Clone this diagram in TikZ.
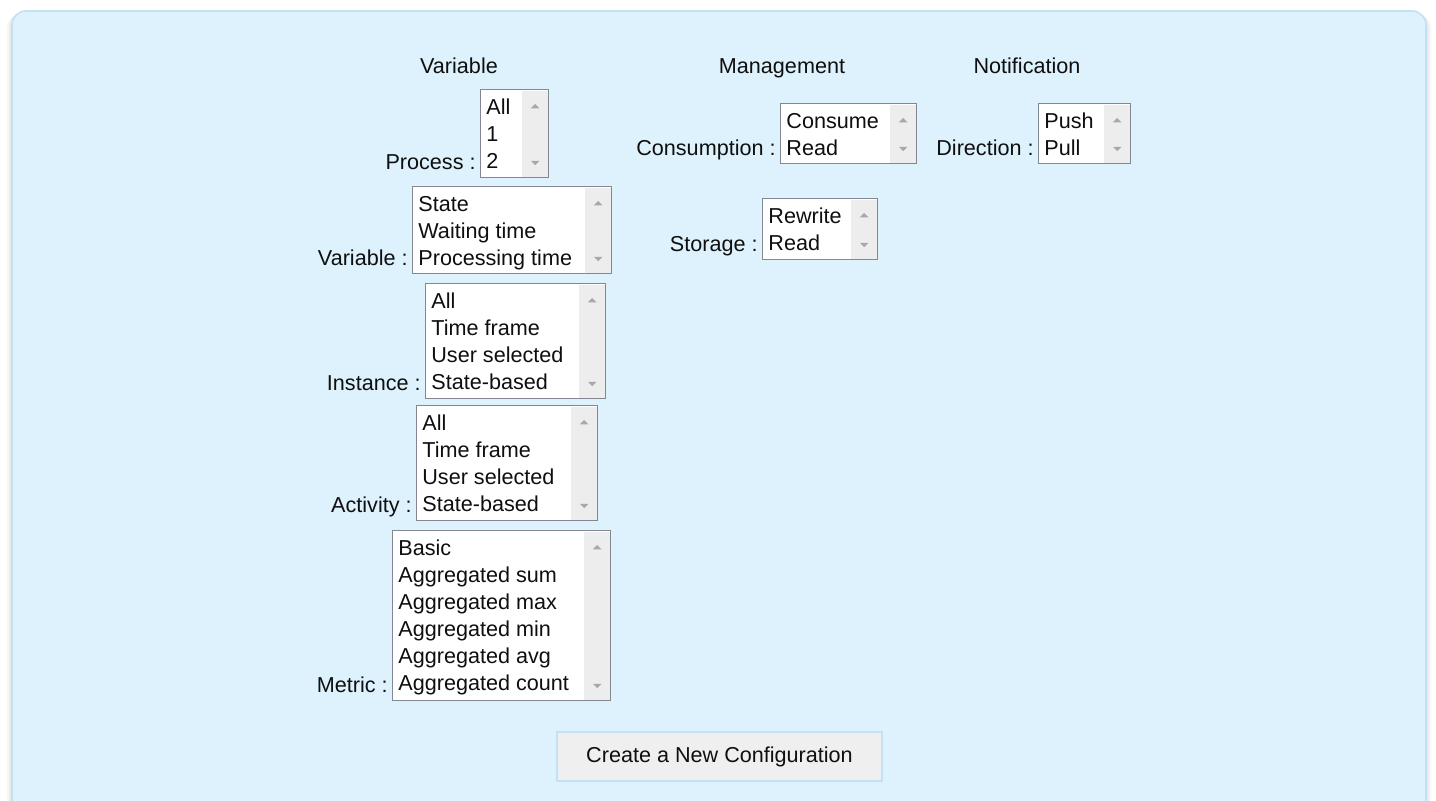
\documentclass[tikz,border=0pt]{standalone}
\usepackage{fontspec}
\setmainfont{Liberation Sans}

\definecolor{panelblue}{RGB}{222,242,253}
\definecolor{panelline}{RGB}{196,225,242}
\definecolor{boxgray}{RGB}{130,135,144}
\definecolor{barfill}{RGB}{237,237,237}
\definecolor{arrowgray}{RGB}{168,168,168}
\definecolor{btnfill}{RGB}{239,239,239}
\definecolor{btnline}{RGB}{192,226,244}
\definecolor{txt}{RGB}{15,15,15}

\begin{document}
\begin{tikzpicture}
    [x=0.5pt, y=-0.5pt,
     every node/.style={font=\fontsize{10.8}{13.5}\selectfont, text=txt},
     heading/.style={anchor=base, inner sep=0pt},
     field/.style={anchor=base east, inner sep=0pt},
     listbox/.style={draw=boxgray, fill=white, anchor=north west, inner sep=0pt, line width=0.6pt},
     entries/.style={anchor=north west, inner sep=0pt, align=left},
     button/.style={draw=btnline, fill=btnfill, line width=0.7pt,
                    minimum width=162.5pt, minimum height=24.5pt}]

    \useasboundingbox (0,0) rectangle (1436,801);

    % panel with a faint shadow
    \fill[black, opacity=0.04, rounded corners=8pt] (7,13) rectangle (1431,850);
    \fill[black, opacity=0.05, rounded corners=7.5pt] (9.5,12) rectangle (1428.5,850);
    \draw[panelline, fill=panelblue, rounded corners=7pt, line width=0.8pt] (12,11) rectangle (1426,850);

    % column headings
    \node[heading] (head var)   at (459,74)  {Variable};
    \node[heading] (head mgmt)  at (782,74)  {Management};
    \node[heading] (head notif) at (1027,74) {Notification};

    % list boxes
    \node[listbox, minimum width=34pt,   minimum height=44pt]   (process)     at (480,89)  {};
    \node[listbox, minimum width=99.5pt, minimum height=43.5pt] (variable)    at (412,186) {};
    \node[listbox, minimum width=90pt,   minimum height=57.5pt] (instance)    at (425,283) {};
    \node[listbox, minimum width=90.5pt, minimum height=57.5pt] (activity)    at (416,405) {};
    \node[listbox, minimum width=109pt,  minimum height=85pt]   (metric)      at (392,530) {};
    \node[listbox, minimum width=68pt,   minimum height=30pt]   (consumption) at (780,103) {};
    \node[listbox, minimum width=46pt,   minimum height=30pt]   (direction)   at (1038,103) {};
    \node[listbox, minimum width=57.5pt, minimum height=30.5pt] (storage)     at (762,198) {};

    % scroll bars
    \foreach \b in {process,variable,instance,activity,metric,consumption,direction,storage}{
        \fill[barfill] ([xshift=-13.5pt,yshift=-0.8pt]\b.north east) rectangle ([xshift=-0.8pt,yshift=0.8pt]\b.south east);
        \fill[arrowgray] ([xshift=-7pt,yshift=-7.5pt]\b.north east) -- ++(-2.2pt,-2.2pt) -- ++(4.4pt,0pt) -- cycle;
        \fill[arrowgray] ([xshift=-7pt,yshift=6.5pt]\b.south east) -- ++(-2.2pt,2.2pt) -- ++(4.4pt,0pt) -- cycle;
    }

    % entries
    \node[entries] (process items)     at ([xshift=3pt,yshift=-4.9pt]process.north west)     {All\\1\\2};
    \node[entries] (variable items)    at ([xshift=3pt,yshift=-4.9pt]variable.north west)    {State\\Waiting time\\Processing time};
    \node[entries] (instance items)    at ([xshift=3pt,yshift=-4.9pt]instance.north west)    {All\\Time frame\\User selected\\State-based};
    \node[entries] (activity items)    at ([xshift=3pt,yshift=-4.9pt]activity.north west)    {All\\Time frame\\User selected\\State-based};
    \node[entries] (metric items)      at ([xshift=3pt,yshift=-4.9pt]metric.north west)      {Basic\\Aggregated sum\\Aggregated max\\Aggregated min\\Aggregated avg\\Aggregated count};
    \node[entries] (consumption items) at ([xshift=3pt,yshift=-4.9pt]consumption.north west) {Consume\\Read};
    \node[entries] (direction items)   at ([xshift=3pt,yshift=-4.9pt]direction.north west)   {Push\\Pull};
    \node[entries] (storage items)     at ([xshift=3pt,yshift=-4.9pt]storage.north west)     {Rewrite\\Read};

    % field labels
    \node[field] (process label)     at ([xshift=-2pt,yshift=4.5pt]process.south west)     {Process :};
    \node[field] (variable label)    at ([xshift=-2pt,yshift=4.5pt]variable.south west)    {Variable :};
    \node[field] (instance label)    at ([xshift=-2pt,yshift=4.5pt]instance.south west)    {Instance :};
    \node[field] (activity label)    at ([xshift=-2pt,yshift=4.5pt]activity.south west)    {Activity :};
    \node[field] (metric label)      at ([xshift=-2pt,yshift=4.5pt]metric.south west)      {Metric :};
    \node[field] (consumption label) at ([xshift=-2pt,yshift=4.5pt]consumption.south west) {Consumption :};
    \node[field] (direction label)   at ([xshift=-2pt,yshift=4.5pt]direction.south west)   {Direction :};
    \node[field] (storage label)     at ([xshift=-2pt,yshift=4.5pt]storage.south west)     {Storage :};

    \node[button] (create) at (719.5,756.5) {Create a New Configuration};

\end{tikzpicture}
\end{document}
